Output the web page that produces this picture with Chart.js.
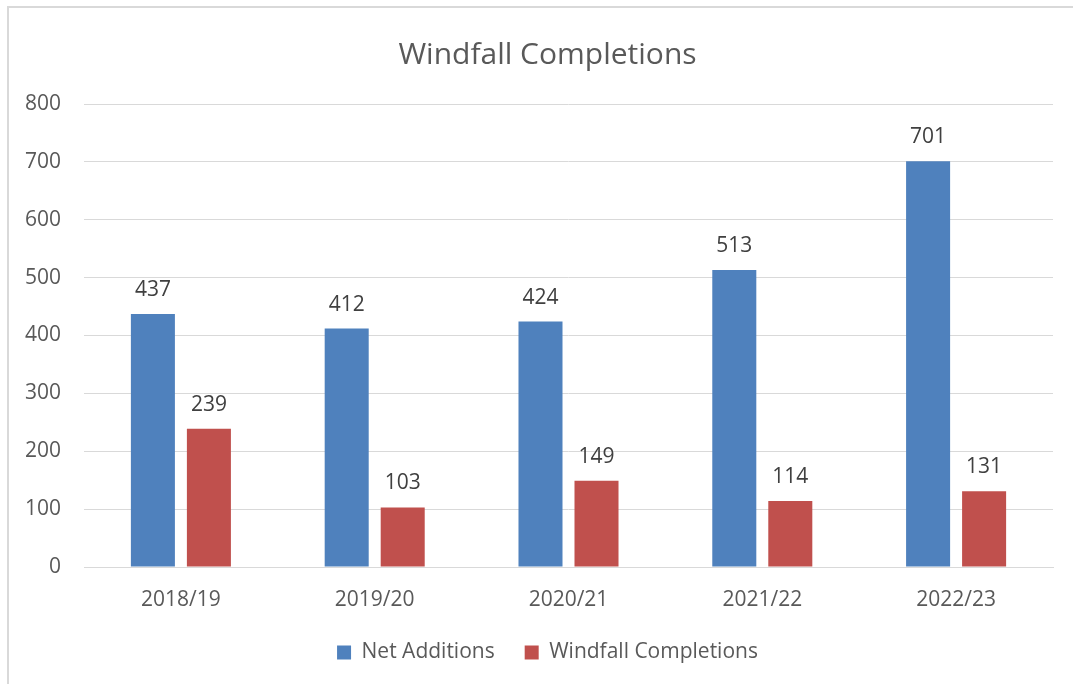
<!DOCTYPE html>
<html>
<head>
<meta charset="utf-8">
<script src="https://cdn.jsdelivr.net/npm/chart.js@4.4.0/dist/chart.umd.min.js"></script>
<style>
  html, body { margin: 0; padding: 0; background: #fff; overflow: hidden; }
  #wrap { position: relative; width: 1073px; height: 684px; overflow: hidden; }
  #frame {
    position: absolute; left: 7px; top: 6px; width: 1080px; height: 700px;
    border: 2px solid #d9d9d9; box-sizing: border-box;
  }
  canvas { position: absolute; left: 0; top: 0; }
</style>
</head>
<body>
<div id="wrap">
  <div id="frame"></div>
  <!-- the original chart frame runs past the right edge of the picture -->
  <canvas id="chart" width="1095" height="684"></canvas>
</div>
<script>
'use strict';

// ─── Data ───
const YEARS = ['2018/19', '2019/20', '2020/21', '2021/22', '2022/23'];
const NET_ADDITIONS = [437, 412, 424, 513, 701];
const WINDFALL_COMPLETIONS = [239, 103, 149, 114, 131];
const Y_TICKS = [0, 100, 200, 300, 400, 500, 600, 700, 800];

const FONT = "'Open Sans', 'Liberation Sans', sans-serif";
const TEXT = '#595959';
const GRID = '#d9d9d9';

// ─── Value labels above each bar ───
const barLabels = {
  id: 'barLabels',
  afterDatasetsDraw(chart) {
    const ctx = chart.ctx;
    ctx.save();
    ctx.font = `21px ${FONT}`;
    ctx.fillStyle = '#404040';
    ctx.textAlign = 'center';
    ctx.textBaseline = 'alphabetic';
    chart.data.datasets.forEach((ds, i) => {
      chart.getDatasetMeta(i).data.forEach((bar, j) => {
        ctx.fillText(ds.data[j], bar.x, bar.y - 18);
      });
    });
    ctx.restore();
  },
};

new Chart(document.getElementById('chart'), {
  type: 'bar',
  data: {
    labels: YEARS,
    datasets: [
      {
        label: 'Net Additions',
        data: NET_ADDITIONS,
        backgroundColor: '#4f81bd',
        barPercentage: 0.786,
        categoryPercentage: 0.578,
      },
      {
        label: 'Windfall Completions',
        data: WINDFALL_COMPLETIONS,
        backgroundColor: '#c0504d',
        barPercentage: 0.786,
        categoryPercentage: 0.578,
      },
    ],
  },
  options: {
    responsive: false,
    animation: false,
    layout: { padding: { top: 37, right: 0, bottom: 11, left: 0 } },
    plugins: {
      title: {
        display: true,
        text: 'Windfall Completions',
        color: TEXT,
        font: { family: FONT, size: 30, weight: 'normal' },
        padding: { top: 0, bottom: 31 },
      },
      legend: {
        position: 'bottom',
        labels: {
          color: TEXT,
          font: { family: FONT, size: 21 },
          boxWidth: 14,
          boxHeight: 14,
          padding: 30,
        },
      },
      tooltip: { enabled: false },
    },
    scales: {
      x: {
        afterFit: (scale) => { scale.height = 45; },
        grid: { display: false, drawTicks: false },
        border: { display: true, color: GRID, width: 1 },
        ticks: { color: TEXT, font: { family: FONT, size: 21 }, padding: 20 },
      },
      y: {
        min: 0,
        max: 800,
        afterFit: (scale) => { scale.width = 84; },
        afterBuildTicks: (scale) => { scale.ticks = Y_TICKS.map(v => ({ value: v })); },
        grid: { color: GRID, drawTicks: false },
        border: { display: false },
        ticks: { color: TEXT, font: { family: FONT, size: 21 }, padding: 23 },
      },
      // empty right margin, so title and legend stay centred on the whole frame
      yRight: {
        position: 'right',
        afterFit: (scale) => { scale.width = 42; },
        grid: { display: false, drawTicks: false },
        border: { display: false },
        ticks: { display: false },
      },
    },
  },
  plugins: [barLabels],
});
</script>
</body>
</html>
